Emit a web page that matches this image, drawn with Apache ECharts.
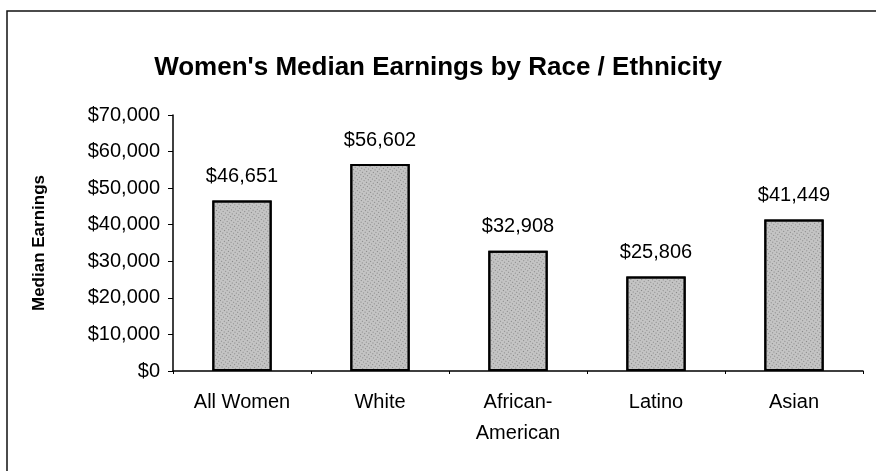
<!DOCTYPE html>
<html>
<head>
<meta charset="utf-8">
<title>Women's Median Earnings by Race / Ethnicity</title>
<script src="https://cdn.jsdelivr.net/npm/echarts@6/dist/echarts.min.js"></script>
<style>
  html, body { margin: 0; padding: 0; background: #fff; }
  #chart { width: 876px; height: 471px; }
</style>
</head>
<body>
<div id="chart"></div>
<script>
// data
var categories = ['All Women', 'White', 'African-\nAmerican', 'Latino', 'Asian'];
var earnings = [46651, 56602, 32908, 25806, 41449];
var yTicks = [0, 10000, 20000, 30000, 40000, 50000, 60000, 70000];

function money(v) {
    return '$' + v.toString().replace(/\B(?=(\d{3})+(?!\d))/g, ',');
}

var font = 'Arial, "Liberation Sans", sans-serif';

var option = {
    animation: false,
    backgroundColor: '#fff',
    title: {
        text: "Women's Median Earnings by Race / Ethnicity",
        left: 'center',
        top: 50,
        textStyle: {
            fontFamily: font,
            fontSize: 26,
            fontWeight: 'bold',
            color: '#000'
        }
    },
    graphic: [{
        // frame of the chart box (left and top edges show)
        type: 'rect',
        shape: { x: 7, y: 11, width: 920, height: 520 },
        style: { fill: null, stroke: '#111', lineWidth: 1.5 }
    }],
    grid: {
        left: 173,
        right: 13,
        top: 115,
        bottom: 100
    },
    xAxis: {
        type: 'category',
        data: categories,
        axisLine: { lineStyle: { color: '#000', width: 1.5 } },
        axisTick: { show: true, length: 3, lineStyle: { color: '#000' } },
        axisLabel: {
            interval: 0,
            margin: 16,
            fontFamily: font,
            fontSize: 20,
            lineHeight: 31,
            color: '#000'
        }
    },
    yAxis: {
        type: 'value',
        min: yTicks[0],
        max: yTicks[yTicks.length - 1],
        interval: 10000,
        name: 'Median Earnings',
        nameLocation: 'middle',
        nameGap: 125,
        nameTextStyle: {
            fontFamily: font,
            fontSize: 17,
            fontWeight: 'bold',
            color: '#000'
        },
        axisLine: { show: true, lineStyle: { color: '#000', width: 1.5 } },
        axisTick: { show: true, length: 5, lineStyle: { color: '#000' } },
        splitLine: { show: false },
        axisLabel: {
            margin: 13,
            fontFamily: font,
            fontSize: 20,
            color: '#000',
            formatter: money
        }
    },
    series: [{
        type: 'bar',
        data: earnings,
        barWidth: '43%',
        itemStyle: {
            color: '#c4c4c4',
            borderColor: '#000',
            borderWidth: 2,
            decal: {
                symbol: 'rect',
                symbolSize: 1,
                color: 'rgba(70, 70, 70, 0.5)',
                dashArrayX: [1, 2],
                dashArrayY: [1, 2],
                rotation: 0.6
            }
        },
        label: {
            show: true,
            position: 'top',
            distance: 14,
            fontFamily: font,
            fontSize: 20,
            color: '#000',
            formatter: function (p) { return money(p.value); }
        }
    }]
};

var chart = echarts.init(document.getElementById('chart'));
chart.setOption(option);

window.addEventListener('resize', function () {
    chart.resize();
});
</script>
</body>
</html>
